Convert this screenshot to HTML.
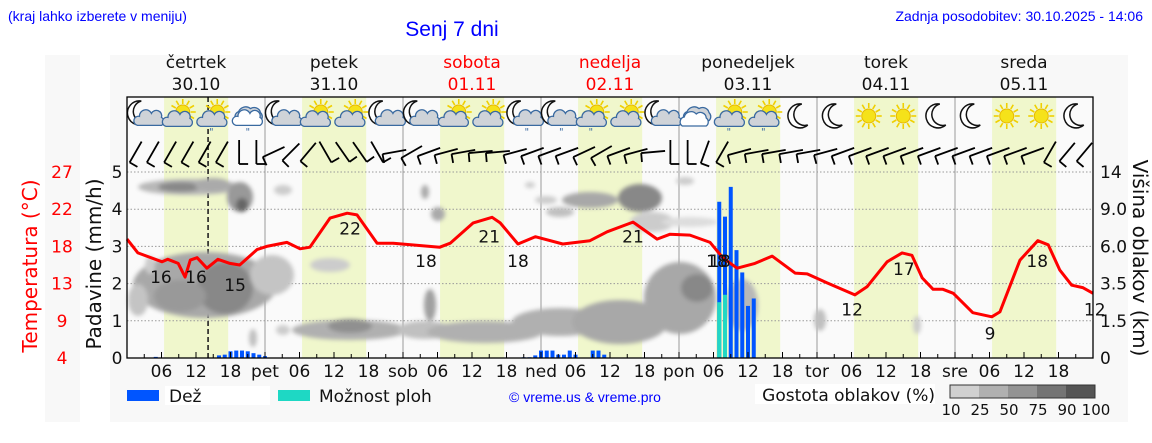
<!DOCTYPE html>
<html><head><meta charset="utf-8">
<style>
html,body{margin:0;padding:0;background:#fff;}
svg{display:block;font-family:"DejaVu Sans","Liberation Sans",sans-serif;}
.hdr{font-family:"Liberation Sans",sans-serif;fill:#0000ff;}
</style></head>
<body>
<svg id="chart" width="1152" height="443" viewBox="0 0 1152 443" xmlns="http://www.w3.org/2000/svg">
<defs>
<filter id="blur" x="-20%" y="-20%" width="140%" height="140%"><feGaussianBlur stdDeviation="2.2"/></filter>
</defs>
<rect x="45" y="55" width="35" height="367" fill="#f8f8f8"/>
<rect x="110" y="55" width="1018" height="367" fill="#f8f8f8"/>
<text class="hdr" x="8" y="21" font-size="14">(kraj lahko izberete v meniju)</text>
<text class="hdr" x="452" y="36" font-size="21" text-anchor="middle">Senj 7 dni</text>
<text class="hdr" x="1143" y="21" font-size="14" text-anchor="end">Zadnja posodobitev: 30.10.2025 - 14:06</text>
<rect x="127" y="97" width="966" height="261" fill="#fafafa"/>
<g id="bands"></g>
<g id="grid"></g>
<g id="clouds" filter="url(#blur)">
</g>
<g id="bars"></g>
<g id="icons"></g>
<g id="wind"></g>
<g id="templine"></g>
<g id="axes"></g>
<g id="legend"></g>
</svg>
<script>
const NS='http://www.w3.org/2000/svg';
const dayNames=['četrtek','petek','sobota','nedelja','ponedeljek','torek','sreda'];
const dayDates=['30.10','31.10','01.11','02.11','03.11','04.11','05.11'];
const dayRed=[false,false,true,true,false,false,false];
const dayAbbr=['pet','sob','ned','pon','tor','sre'];
const rainTicks=[0,1,2,3,4,5];
const tempTickLabels=['4','9','13','18','22','27'];
const cloudTickLabels=['0','1.5','3.5','6.0','9.0','14'];
const tempHours=[0,1.9,6.1,7.1,8.9,10.1,11,12.2,13.9,15.8,17.9,19.6,22.6,24.3,27.8,30.1,31.8,35.3,38.3,40,43.5,46.3,54.4,56.2,60.2,63.5,64.9,68,71,75.8,80.5,83.5,88,92.2,94.4,97.9,101.4,103.6,106.1,109.2,112.2,116.2,118.3,121.7,126.6,128.7,132.2,134.8,136.5,138.3,140.2,141.9,143.7,147.1,150.4,151.8,155.3,158.4,160.2,162.2,164.3,166.2,168];
const tempValues=[18.7,17.0,15.9,16.2,15.7,14.0,16.1,16.4,15.1,16.2,15.7,15.5,17.4,17.8,18.3,17.5,17.7,21.3,21.9,21.7,18.2,18.2,17.7,18.2,20.7,21.4,20.7,18.1,19.0,18.1,18.5,19.6,20.8,18.7,19.3,19.2,18.3,16.4,15.1,15.7,16.6,14.5,14.4,13.3,11.8,12.8,15.9,17.0,16.7,13.9,12.5,12.5,12.0,9.6,9.1,9.7,16.1,18.5,18.0,14.9,13.0,12.7,12.0];
const labelHours=[5.9,12.0,18.8,38.8,52.0,63.0,68.0,88.0,102.6,103.1,126.1,135.1,150.1,158.3,168.3];
const labelTemps=[16,16,15,22,18,21,18,21,18,18,12,17,9,18,12];
const rainHours=[5,16,17,18,19,20,21,22,23,24,69,70,71,72,73,74,75,76,77,78,81,82,83,103,104,105,106,107,108,109];
const rainValues=[0.03,0.07,0.09,0.18,0.2,0.2,0.18,0.13,0.09,0.05,0.02,0.02,0.07,0.2,0.2,0.2,0.09,0.09,0.2,0.09,0.2,0.2,0.09,4.2,3.8,4.6,2.9,2.3,1.4,1.6];
const stormHours=[103,104];
const stormValues=[1.5,1.7];
const iconTypes=['mc','sc','scr','cr','mc','sc','sc','mc','mc','sc','sc','mcr','mcr','scr','sc','mc','ov','scr','scr','m','m','s','s','m','m','s','s','m'];
const windAngles=[60,60,60,60,60,60,90,90,25,45,50,120,125,125,120,10,30,20,15,10,5,5,15,20,20,20,25,30,20,15,5,90,90,70,60,15,10,10,10,10,15,20,20,20,20,20,20,20,20,20,20,20,20,60,50,50];

const X0=127,DAYW=138,Y0=358,PX=37.2;
const X=h=>X0+h*DAYW/24;
const Yr=v=>Y0-v*PX;
const Yt=t=>Y0-(t-4)*(5*PX/23);
function el(tag,attrs,parent,txt){const e=document.createElementNS(NS,tag);for(const k in attrs)e.setAttribute(k,attrs[k]);if(txt!==undefined)e.textContent=txt;parent.appendChild(e);return e;}
const g=id=>document.getElementById(id);

for(let d=0;d<7;d++){
  const r=el('rect',{x:X(d*24+6.45),y:97,width:X(17.6)-X(6.45),height:261,fill:'#f0f7cc'},g('bands'));
  
  
}
for(const v of rainTicks.slice(1)){
  const l=el('line',{x1:X0,x2:X(168),y1:Yr(v),y2:Yr(v),stroke:'#999','stroke-dasharray':'1.5,2','stroke-width':1},g('grid'));
  
  
}
for(let d=1;d<7;d++){
  const l=el('line',{x1:X(d*24),x2:X(d*24),y1:97,y2:358,stroke:'#999','stroke-width':1},g('grid'));
  
  
}
const blobs=[[190,187,52,8,'#b8b8b8'],[180,187,22,5,'#888'],[213,185,18,7,'#aaa'],[240,197,13,15,'#999'],[242,205,6,7,'#666'],[283,190,9,5,'#ccc'],
[205,285,72,33,'#a8a8a8'],[225,288,28,26,'#888'],[180,296,26,16,'#999'],[272,275,22,20,'#c4c4c4'],[138,300,10,16,'#c4c4c4'],[150,265,5,9,'#ccc'],
[350,330,58,10,'#b0b0b0'],[350,326,22,7,'#909090'],[425,330,28,9,'#c0c0c0'],[485,332,58,11,'#b0b0b0'],[560,322,48,14,'#b0b0b0'],[620,322,48,22,'#a8a8a8'],
[680,298,36,36,'#a8a8a8'],[697,288,16,14,'#888'],[742,305,16,26,'#b8b8b8'],[430,305,6,16,'#a0a0a0'],[330,265,20,7,'#ccc'],[283,330,7,5,'#ccc'],
[590,200,28,8,'#a8a8a8'],[640,198,22,14,'#888'],[652,222,22,10,'#ccc'],[546,200,11,4,'#ccc'],[530,185,5,3,'#ccc'],[690,222,28,5,'#ddd'],
[425,192,4,7,'#aaa'],[438,214,7,7,'#aaa'],[560,212,14,5,'#c0c0c0'],[685,181,9,4,'#ccc'],[820,320,6,11,'#c0c0c0'],[917,325,4,9,'#ccc'],[253,338,4,9,'#c0c0c0']];
for(const b of blobs){
  const e=el('ellipse',{cx:b[0],cy:b[1],rx:b[2],ry:b[3],fill:b[4]},g('clouds'));
  
  
}
rainHours.forEach((h,i)=>{
  const r=el('rect',{x:X(h)-2,y:Yr(rainValues[i]),width:4,height:Y0-Yr(rainValues[i]),fill:'#0055ff'},g('bars'));
  
  
});
stormHours.forEach((h,i)=>{
  const r=el('rect',{x:X(h)-2,y:Yr(stormValues[i]),width:4,height:Y0-Yr(stormValues[i]),fill:'#22d8c4'},g('bars'));
  
  
});
const nl=el('line',{x1:X(14.1),x2:X(14.1),y1:97,y2:358,stroke:'#222','stroke-width':1.6,'stroke-dasharray':'5,3'},g('grid'));



function cloud(p,cx,cy,s,fill){
  el('path',{d:`M${cx-12*s},${cy+6*s} a5 5 0 0 1 2,-9 a7 7 0 0 1 12,-3 a6 6 0 0 1 10,4 a5 5 0 0 1 0,8 z`.replace(/a(\d+) (\d+)/g,(m,a,b)=>'a'+a*s+' '+b*s),fill:fill,stroke:'#3a6aa0','stroke-width':1.3},p);
}
function sun(p,cx,cy){
  for(let k=0;k<12;k++){const a=k*Math.PI/6;el('line',{x1:cx+8*Math.cos(a),y1:cy+8*Math.sin(a),x2:cx+13*Math.cos(a),y2:cy+13*Math.sin(a),stroke:'#f0d000','stroke-width':1.6},p);}
  el('circle',{cx:cx,cy:cy,r:7,fill:'#f5e21a',stroke:'#e8b800','stroke-width':1},p);
}
function moon(p,cx,cy){
  el('path',{d:`M${cx+2},${cy-12} a12 12 0 1 0 6,21 a10 10 0 0 1 -6,-21 z`,fill:'#fff',stroke:'#111','stroke-width':1.5},p);
}
function rain(p,cx,cy){el('text',{x:cx,y:cy,'font-size':10,fill:'#3a6aa0','text-anchor':'middle'},p,'"');}
iconTypes.forEach((t,i)=>{
  const cx=X(3+6*i),cy=116;
  const gi=el('g',{},g('icons'));
  
  
  if(t==='m'){moon(gi,cx,cy);}
  else if(t==='s'){sun(gi,cx,cy);}
  else if(t==='mc'||t==='mcr'){moon(gi,cx-5,cy-3);cloud(gi,cx+4,cy+4,0.9,'#cfd3d8');if(t==='mcr')rain(gi,cx+3,cy+19);}
  else if(t==='sc'||t==='scr'){sun(gi,cx+4,cy-4);cloud(gi,cx-2,cy+5,0.9,'#cfd3d8');if(t==='scr')rain(gi,cx-2,cy+19);}
  else if(t==='cr'){cloud(gi,cx+2,cy-2,1.1,'#cfd3d8');cloud(gi,cx-1,cy+4,0.9,'#fff');rain(gi,cx,cy+19);}
  else if(t==='ov'){cloud(gi,cx+2,cy-2,1.1,'#cfd3d8');cloud(gi,cx-2,cy+4,1,'#fff');}
});
windAngles.forEach((a,i)=>{
  const cx=X(1.5+3*i),cy=152,L=24,r=a*Math.PI/180;
  const x1=cx-L/2*Math.cos(r),y1=cy+L/2*Math.sin(r),x2=cx+L/2*Math.cos(r),y2=cy-L/2*Math.sin(r);
  const gw=el('g',{stroke:'#000','stroke-width':1.8,fill:'none'},g('wind'));
  
  
  el('line',{x1:x1,y1:y1,x2:x2,y2:y2},gw);
  const br=r-Math.PI/2;
  el('line',{x1:x1,y1:y1,x2:x1+9*Math.cos(br),y2:y1-9*Math.sin(br)},gw);
});
const pts=tempHours.map((h,i)=>X(h).toFixed(1)+','+Yt(tempValues[i]).toFixed(1)).join(' ');
const tl=el('polyline',{points:pts,fill:'none',stroke:'#ff0000','stroke-width':3,'stroke-linejoin':'round'},g('templine'));


labelHours.forEach((h,i)=>{
  const t=el('text',{x:X(h),y:Yt(labelTemps[i])+22,'font-size':17,'text-anchor':'middle',fill:'#111'},g('templine'),String(labelTemps[i]));
  
  
});
const ax=g('axes');
const fr=el('rect',{x:X0,y:97,width:X(168)-X0,height:261,fill:'none',stroke:'#000','stroke-width':1.3},ax);


rainTicks.forEach((v,i)=>{
  const a=el('text',{x:117,y:Yr(v)+6,'font-size':17,'text-anchor':'middle',fill:'#111'},ax,String(v));
  
  
  const b=el('text',{x:62,y:Yr(v)+6,'font-size':17,'text-anchor':'middle',fill:'#ff0000'},ax,tempTickLabels[i]);
  
  
  const c=el('text',{x:1100,y:Yr(v)+6,'font-size':17,fill:'#111'},ax,cloudTickLabels[i]);
  
  
});
for(let h=3;h<168;h+=3){
  el('line',{x1:X(h),x2:X(h),y1:358,y2:h%6?354:352,stroke:'#000','stroke-width':1},ax);
}
for(let d=0;d<7;d++){
  [6,12,18].forEach(hh=>{
    const t=el('text',{x:X(d*24+hh),y:377,'font-size':17,'text-anchor':'middle',fill:'#111'},ax,(hh<10?'0':'')+hh);
    
    
  });
  if(d<6){
    const t=el('text',{x:X(d*24+24),y:377,'font-size':17,'text-anchor':'middle',fill:'#111'},ax,dayAbbr[d]);
    
    
  }
  const n=el('text',{x:X(d*24+12),y:68,'font-size':17,'text-anchor':'middle',fill:dayRed[d]?'#ff0000':'#111'},ax,dayNames[d]);
  
  
  const dt=el('text',{x:X(d*24+12),y:90,'font-size':17,'text-anchor':'middle',fill:dayRed[d]?'#ff0000':'#111'},ax,dayDates[d]);
  
  
}
const t1=el('text',{x:0,y:0,'font-size':20,'text-anchor':'middle',fill:'#ff0000',transform:'translate(37,266) rotate(-90)'},ax,'Temperatura (°C)');


const t2=el('text',{x:0,y:0,'font-size':20,'text-anchor':'middle',fill:'#111',transform:'translate(101,264) rotate(-90)'},ax,'Padavine (mm/h)');


const t3=el('text',{x:0,y:0,'font-size':20,'text-anchor':'middle',fill:'#111',transform:'translate(1133,258) rotate(90)'},ax,'Višina oblakov (km)');


const lg=g('legend');
el('rect',{x:165,y:386,width:105,height:19,fill:'#fff'},lg);
const l1=el('rect',{x:127,y:390,width:32,height:11,fill:'#0055ff'},lg);


const l1t=el('text',{x:169,y:402,'font-size':17,fill:'#111'},lg,'Dež');


const l2=el('rect',{x:278,y:390,width:32,height:11,fill:'#1ed8c4'},lg);


const l2t=el('text',{x:319,y:402,'font-size':17,fill:'#111'},lg,'Možnost ploh');


const cp=el('text',{x:585,y:402,'font-size':14,'text-anchor':'middle',fill:'#0000ff','font-family':'Liberation Sans, sans-serif'},lg,'© vreme.us & vreme.pro');


el('rect',{x:755,y:384,width:180,height:20,fill:'#fff'},lg);
const gt=el('text',{x:935,y:401,'font-size':17,'text-anchor':'end',fill:'#111'},lg,'Gostota oblakov (%)');


const cbColors=['#d0d0d0','#b0b0b0','#939393','#747474','#555555'];
const cbLabels=['10','25','50','75','90','100'];
cbColors.forEach((c,i)=>{
  const r=el('rect',{x:950+i*29,y:385,width:29,height:13,fill:c},lg);
  
  
});
el('rect',{x:950,y:385,width:145,height:13,fill:'none',stroke:'#333','stroke-width':1},lg);
cbLabels.forEach((s,i)=>{
  const t=el('text',{x:951+i*29,y:415,'font-size':15,'text-anchor':'middle',fill:'#111'},lg,s);
  
  
});
</script>
</body></html>
